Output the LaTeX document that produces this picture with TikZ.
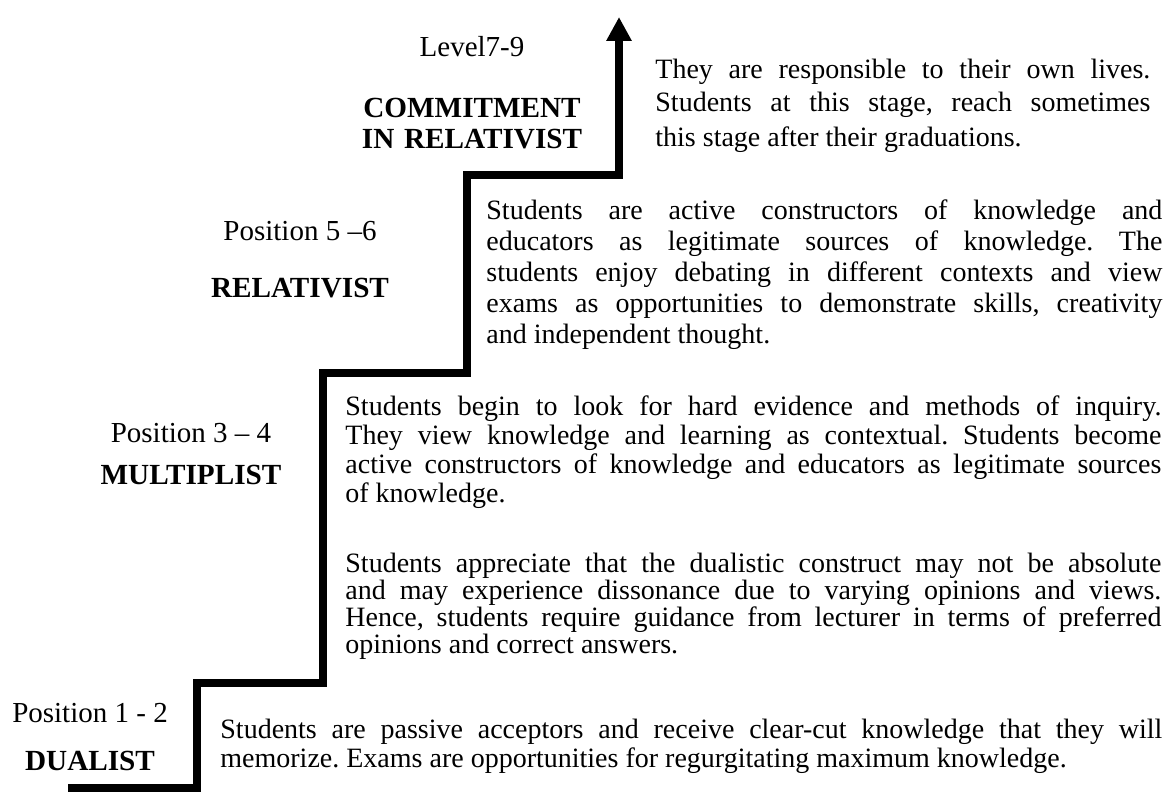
\documentclass[tikz,border=0pt]{standalone}
\usepackage{fontspec}
\setmainfont{Liberation Serif}
\usetikzlibrary{arrows.meta,positioning}
\frenchspacing

\begin{document}
\begin{tikzpicture}[
        x=0.5pt, y=-0.5pt, % one unit is one pixel of the layout
        stair/.style={line width=3.6pt, -{Triangle[width=12pt,length=12pt]}},
        stage/.style={font=\fontsize{14.5}{16}\selectfont, anchor=base, inner sep=0pt},
        level/.style={font=\fontsize{14.6}{15}\selectfont\bfseries, align=center, text width=130pt, anchor=base, inner sep=0pt},
        desc/.style={font=\fontsize{14}{#1}\selectfont, align=justify, inner sep=0pt, anchor=base west},
    ]
    \useasboundingbox (0,0) rectangle (1170,792);

    % Define staircase corners
    \coordinate (floor) at (68,788);
    \coordinate (step1) at (197,683);
    \coordinate (step2) at (323,373);
    \coordinate (step3) at (467,175);
    \coordinate (top) at (619,17);

    % The staircase arrow
    \draw[stair] (floor) -| (step1) -| (step2) -| (step3) -| (top);

    % Stage names on the left
    \node[stage] (pos79) at (472,57) {Level7-9};
    \node[level] (commit) at ([yshift=-30.5pt]pos79.base) {COMMITMENT\\ IN RELATIVIST};
    \node[stage] (pos56) at (300,240) {Position 5 --6};
    \node[level] (relativist) at ([yshift=-28.5pt]pos56.base) {RELATIVIST};
    \node[stage] (pos34) at (191,442) {Position 3 -- 4};
    \node[level] (multiplist) at ([yshift=-21pt]pos34.base) {MULTIPLIST};
    \node[stage] (pos12) at (90,722) {Position 1 - 2};
    \node[level] (dualist) at ([yshift=-24pt]pos12.base) {DUALIST};

    % Descriptions beside each step
    \node[desc=17pt, text width=247.5pt] (desc79) at (655,78)
        {They are responsible to their own lives.\linebreak
         Students at this stage, reach sometimes\linebreak
         this stage after their graduations.};
    \node[desc=15.5pt, text width=338pt] (desc56) at (486,219)
        {Students are active constructors of knowledge and\linebreak
         educators as legitimate sources of knowledge. The\linebreak
         students enjoy debating in different contexts and view\linebreak
         exams as opportunities to demonstrate skills, creativity\linebreak
         and independent thought.};
    \node[desc=14.5pt, text width=408pt] (desc34a) at (345,415)
        {Students begin to look for hard evidence and methods of inquiry.\linebreak
         They view knowledge and learning as contextual. Students become\linebreak
         active constructors of knowledge and educators as legitimate sources\linebreak
         of knowledge.};
    \node[desc=13.5pt, text width=408pt] (desc34b) at (345,572)
        {Students appreciate that the dualistic construct may not be absolute\linebreak
         and may experience dissonance due to varying opinions and views.\linebreak
         Hence, students require guidance from lecturer in terms of preferred\linebreak
         opinions and correct answers.};
    \node[desc=14.5pt, text width=471pt] (desc12) at (220,738)
        {Students are passive acceptors and receive clear-cut knowledge that they will\linebreak
         memorize. Exams are opportunities for regurgitating maximum knowledge.};
\end{tikzpicture}
\end{document}
